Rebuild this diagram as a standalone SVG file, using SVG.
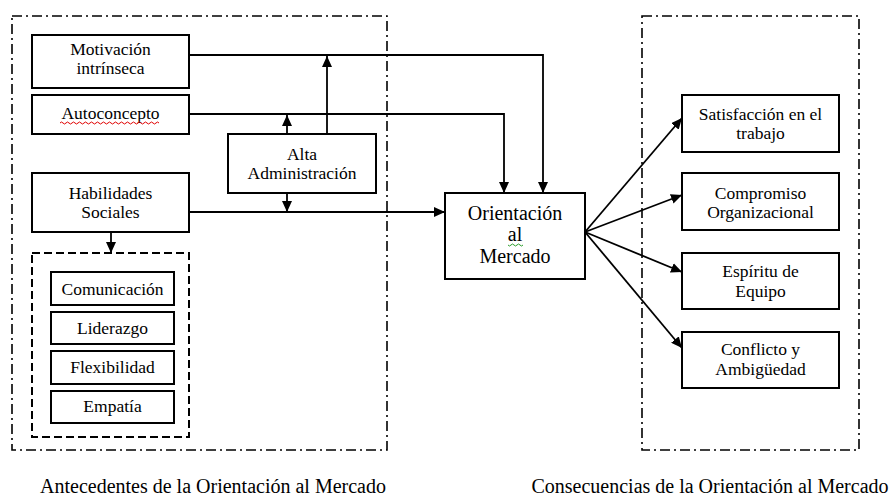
<svg xmlns="http://www.w3.org/2000/svg" width="890" height="497" viewBox="0 0 890 497">
<defs>
<marker id="ah" markerUnits="userSpaceOnUse" markerWidth="12" markerHeight="10" refX="11" refY="5" orient="auto"><path d="M0,0 L11,5 L0,10 Z" fill="#000"/></marker>
</defs>
<style>
.box{fill:#fff;stroke:#000;stroke-width:2}
.grp{fill:none;stroke:#000;stroke-width:1.6;stroke-dasharray:10 4 2 4}
.dash{fill:none;stroke:#000;stroke-width:2;stroke-dasharray:8 4}
.c{fill:none;stroke:#000;stroke-width:1.8;marker-end:url(#ah)}
</style>
<rect width="890" height="497" fill="#fff"/>
<g id="antecedentes">
<rect class="grp" x="12" y="16" width="375" height="434"/>
<text x="213" y="493" font-family="Liberation Serif" font-size="20" text-anchor="middle">Antecedentes de la Orientación al Mercado</text>
</g>
<g id="consecuencias">
<rect class="grp" x="642" y="16" width="217" height="434"/>
<text x="710" y="493" font-family="Liberation Serif" font-size="20" text-anchor="middle">Consecuencias de la Orientación al Mercado</text>
</g>
<g id="connectors">
<path class="c" d="M189,55 H543 V193"/>
<path class="c" d="M189,114 H504 V193"/>
<path class="c" d="M189,212 H445"/>
<path class="c" d="M327,134 V56"/>
<path class="c" d="M287,134 V115"/>
<path class="c" d="M287,193 V212"/>
<path class="c" d="M111,232 V253"/>
<path class="c" d="M585,232 L682,118"/>
<path class="c" d="M585,232 L682,195"/>
<path class="c" d="M585,232 L682,272"/>
<path class="c" d="M585,232 L682,348"/>
</g>
<g id="motivacion">
<rect class="box" x="32" y="35" width="157" height="53"/>
<text x="110.5" y="55" font-family="Liberation Serif" font-size="17.5" text-anchor="middle">Motivación</text>
<text x="110.5" y="74" font-family="Liberation Serif" font-size="17.5" text-anchor="middle">intrínseca</text>
</g>
<g id="autoconcepto">
<rect class="box" x="32" y="95" width="157" height="39"/>
<text x="110.5" y="119" font-family="Liberation Serif" font-size="17.5" text-anchor="middle">Autoconcepto</text>
<path d="M60,123 q1.5,-2 3,0 t3,0 t3,0 t3,0 t3,0 t3,0 t3,0 t3,0 t3,0 t3,0 t3,0 t3,0 t3,0 t3,0 t3,0 t3,0 t3,0 t3,0 t3,0 t3,0 t3,0 t3,0 t3,0 t3,0 t3,0 t3,0 t3,0 t3,0 t3,0 t3,0 t3,0 t3,0 t3,0" fill="none" stroke="#e00000" stroke-width="1"/>
</g>
<g id="alta">
<rect class="box" x="228" y="134" width="148" height="59"/>
<text x="302" y="160" font-family="Liberation Serif" font-size="17.5" text-anchor="middle">Alta</text>
<text x="302" y="179" font-family="Liberation Serif" font-size="17.5" text-anchor="middle">Administración</text>
</g>
<g id="habilidades">
<rect class="box" x="32" y="173" width="157" height="59"/>
<text x="110.5" y="199" font-family="Liberation Serif" font-size="17.5" text-anchor="middle">Habilidades</text>
<text x="110.5" y="218" font-family="Liberation Serif" font-size="17.5" text-anchor="middle">Sociales</text>
</g>
<g id="habilidades-detalle">
<rect class="dash" x="32" y="253" width="157" height="184"/>
</g>
<g id="comunicacion">
<rect class="box" x="51" y="272" width="123" height="33"/>
<text x="112.5" y="295" font-family="Liberation Serif" font-size="17.5" text-anchor="middle">Comunicación</text>
</g>
<g id="liderazgo">
<rect class="box" x="51" y="312" width="123" height="32"/>
<text x="112.5" y="334" font-family="Liberation Serif" font-size="17.5" text-anchor="middle">Liderazgo</text>
</g>
<g id="flexibilidad">
<rect class="box" x="51" y="351" width="123" height="33"/>
<text x="112.5" y="373" font-family="Liberation Serif" font-size="17.5" text-anchor="middle">Flexibilidad</text>
</g>
<g id="empatia">
<rect class="box" x="51" y="391" width="123" height="32"/>
<text x="112.5" y="412" font-family="Liberation Serif" font-size="17.5" text-anchor="middle">Empatía</text>
</g>
<g id="orientacion">
<rect class="box" x="445" y="193" width="140" height="86"/>
<text x="515" y="220" font-family="Liberation Serif" font-size="20" text-anchor="middle">Orientación</text>
<text x="515" y="241" font-family="Liberation Serif" font-size="20" text-anchor="middle">al</text>
<text x="515" y="263" font-family="Liberation Serif" font-size="20" text-anchor="middle">Mercado</text>
<path d="M508,245 q1.5,2 3,0 t3,0 t3,0 t3,0 t3,0" fill="none" stroke="#2a9d2a" stroke-width="1"/>
</g>
<g id="satisfaccion">
<rect class="box" x="682" y="95" width="157" height="57"/>
<text x="760.5" y="120" font-family="Liberation Serif" font-size="17.5" text-anchor="middle">Satisfacción en el</text>
<text x="760.5" y="139" font-family="Liberation Serif" font-size="17.5" text-anchor="middle">trabajo</text>
</g>
<g id="compromiso">
<rect class="box" x="682" y="173" width="157" height="57"/>
<text x="760.5" y="199" font-family="Liberation Serif" font-size="17.5" text-anchor="middle">Compromiso</text>
<text x="760.5" y="218" font-family="Liberation Serif" font-size="17.5" text-anchor="middle">Organizacional</text>
</g>
<g id="espiritu">
<rect class="box" x="682" y="253" width="157" height="56"/>
<text x="760.5" y="277" font-family="Liberation Serif" font-size="17.5" text-anchor="middle">Espíritu de</text>
<text x="760.5" y="297" font-family="Liberation Serif" font-size="17.5" text-anchor="middle">Equipo</text>
</g>
<g id="conflicto">
<rect class="box" x="682" y="332" width="157" height="56"/>
<text x="760.5" y="355" font-family="Liberation Serif" font-size="17.5" text-anchor="middle">Conflicto y</text>
<text x="760.5" y="375" font-family="Liberation Serif" font-size="17.5" text-anchor="middle">Ambigüedad</text>
</g>
</svg>
